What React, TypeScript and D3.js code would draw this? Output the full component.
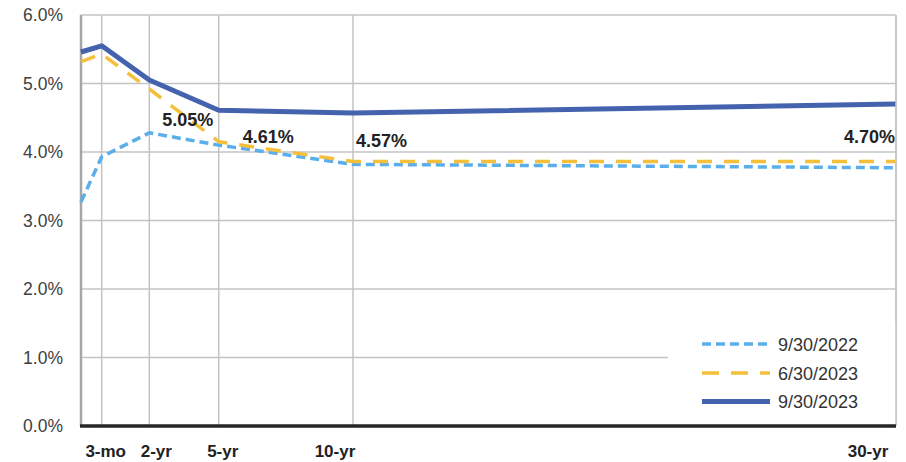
import React, { useEffect, useRef } from 'react';
import * as d3 from 'd3';

// maturities (years) and their axis labels
const maturityYears = [1 / 12, 0.25, 2, 5, 10, 30];
const maturityLabels = ['', '3-mo', '2-yr', '5-yr', '10-yr', '30-yr'];

// yields in %
const sep2022 = [3.27, 3.93, 4.28, 4.1, 3.82, 3.77];
const jun2023 = [5.32, 5.43, 4.92, 4.15, 3.86, 3.86];
const sep2023 = [5.46, 5.55, 5.05, 4.61, 4.57, 4.7];

const seriesNames = ['9/30/2022', '6/30/2023', '9/30/2023'];
const yTicks = [0, 1, 2, 3, 4, 5, 6];

// which points of 9/30/2023 get a value label
const labelledPoints = [2, 3, 4, 5];

const WIDTH = 906;
const HEIGHT = 462;

export default function App() {
  const svgRef = useRef<SVGSVGElement>(null);

  useEffect(() => {
    if (!svgRef.current) return;
    const svg = d3.select(svgRef.current);
    svg.selectAll('*').remove();

    const left = 81;
    const right = 896;
    const top = 15;
    const bottom = 426;
    const w = right - left;

    // the source axis is unevenly spaced, so a piecewise scale
    const spacing = [0, 0.0254, 0.0838, 0.169, 0.3337, 1];
    const x = d3.scaleLinear()
      .domain(maturityYears)
      .range(spacing.map(f => left + f * w));
    const y = d3.scaleLinear().domain([0, 6]).range([bottom, top]);

    const font = '"Liberation Sans", Arial, sans-serif';
    const gridColor = '#c4c4c4';

    // horizontal gridlines
    svg.append('g')
      .selectAll('line')
      .data(yTicks)
      .enter()
      .append('line')
      .attr('x1', left)
      .attr('x2', right)
      .attr('y1', d => y(d))
      .attr('y2', d => y(d))
      .attr('stroke', gridColor)
      .attr('stroke-width', 1.5);

    // vertical gridlines at the labelled maturities
    svg.append('g')
      .selectAll('line')
      .data(maturityYears.slice(1))
      .enter()
      .append('line')
      .attr('x1', d => x(d))
      .attr('x2', d => x(d))
      .attr('y1', top)
      .attr('y2', bottom)
      .attr('stroke', gridColor)
      .attr('stroke-width', 1.5);

    // left axis
    svg.append('line')
      .attr('x1', left).attr('x2', left)
      .attr('y1', top).attr('y2', bottom)
      .attr('stroke', '#a6a6a6')
      .attr('stroke-width', 2.5);

    // y tick labels
    svg.append('g')
      .selectAll('text')
      .data(yTicks)
      .enter()
      .append('text')
      .attr('x', 63)
      .attr('y', d => y(d) + 6)
      .attr('text-anchor', 'end')
      .attr('font-family', font)
      .attr('font-size', 17.5)
      .attr('fill', '#404040')
      .text(d => `${d.toFixed(1)}%`);

    // legend box (covers the grid)
    svg.append('rect')
      .attr('x', 668)
      .attr('y', 322)
      .attr('width', right - 668)
      .attr('height', bottom - 322)
      .attr('fill', '#ffffff');

    const seriesData = [sep2022, jun2023, sep2023];
    const styles = [
      { color: '#5aaee9', width: 3.5, dash: '9,5' },
      { color: '#f4bf3a', width: 3.5, dash: '15,12' },
      { color: '#4462ad', width: 5, dash: null as string | null }
    ];

    const line = d3.line<number>()
      .x((_, i) => x(maturityYears[i]))
      .y(d => y(d));

    seriesData.forEach((values, i) => {
      svg.append('path')
        .datum(values)
        .attr('d', line)
        .attr('fill', 'none')
        .attr('stroke', styles[i].color)
        .attr('stroke-width', styles[i].width)
        .attr('stroke-dasharray', styles[i].dash)
        .attr('stroke-linejoin', 'round');
    });

    // right border
    svg.append('line')
      .attr('x1', right).attr('x2', right)
      .attr('y1', top).attr('y2', bottom)
      .attr('stroke', gridColor)
      .attr('stroke-width', 1.5);

    // bottom axis
    svg.append('line')
      .attr('x1', left - 1).attr('x2', right)
      .attr('y1', bottom).attr('y2', bottom)
      .attr('stroke', '#262626')
      .attr('stroke-width', 3.5);

    // data labels (placed by hand in the source, so per-label offsets)
    const labelOffsets = [
      { dx: 13, dy: 46, anchor: 'start' },
      { dx: 24, dy: 33, anchor: 'start' },
      { dx: 3, dy: 34, anchor: 'start' },
      { dx: -1, dy: 39, anchor: 'end' }
    ];
    labelledPoints.forEach((p, k) => {
      const o = labelOffsets[k];
      svg.append('text')
        .attr('x', x(maturityYears[p]) + o.dx)
        .attr('y', y(sep2023[p]) + o.dy)
        .attr('text-anchor', o.anchor)
        .attr('font-family', font)
        .attr('font-size', 18)
        .attr('font-weight', 'bold')
        .attr('fill', '#222222')
        .text(`${sep2023[p].toFixed(2)}%`);
    });

    // x category labels
    const xLabelDx = [0, 4, 7, 4, -18, -28];
    svg.append('g')
      .selectAll('text')
      .data(maturityLabels.map((l, i) => ({ l, i })).filter(d => d.l))
      .enter()
      .append('text')
      .attr('x', d => x(maturityYears[d.i]) + xLabelDx[d.i])
      .attr('y', 457)
      .attr('text-anchor', 'middle')
      .attr('font-family', font)
      .attr('font-size', 17)
      .attr('font-weight', 'bold')
      .attr('fill', '#222222')
      .text(d => d.l);

    // legend
    const legendRows = [344, 373, 401.5];
    seriesNames.forEach((name, i) => {
      svg.append('line')
        .attr('x1', 702)
        .attr('x2', 770)
        .attr('y1', legendRows[i])
        .attr('y2', legendRows[i])
        .attr('stroke', styles[i].color)
        .attr('stroke-width', styles[i].width)
        .attr('stroke-dasharray', i === 1 ? '17,12' : styles[i].dash);
      svg.append('text')
        .attr('x', 778)
        .attr('y', legendRows[i] + 6.5)
        .attr('font-family', font)
        .attr('font-size', 18)
        .attr('fill', '#333333')
        .text(name);
    });
  }, []);

  return (
    <svg
      ref={svgRef}
      width={WIDTH}
      height={HEIGHT}
      style={{ position: 'absolute', left: 0, top: 0, background: '#ffffff' }}
    />
  );
}
